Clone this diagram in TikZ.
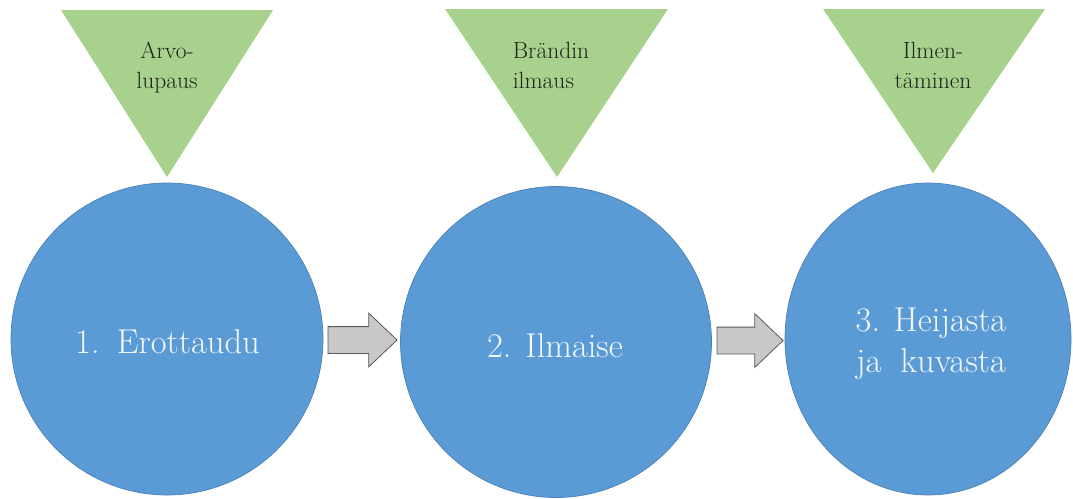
\documentclass[tikz,border=0pt]{standalone}
\usepackage{fontspec}
\usetikzlibrary{shapes.geometric,shapes.arrows}
\definecolor{stepblue}{HTML}{5B9BD5}
\definecolor{stepedge}{HTML}{4A80B8}
\definecolor{taggreen}{HTML}{A9D18E}
\definecolor{arrowgray}{HTML}{C8C8C8}
\definecolor{arrowedge}{HTML}{595959}
\definecolor{steptext}{HTML}{F2F7FC}
\definecolor{tagtext}{HTML}{1E261C}
\begin{document}
\begin{tikzpicture}[x=1pt,y=-1pt,
  stepdisc/.style={circle, fill=stepblue, draw=stepedge, line width=0.7pt,
    inner sep=0pt, minimum size=#1},
  stepoval/.style={ellipse, fill=stepblue, draw=stepedge, line width=0.7pt,
    inner sep=0pt, minimum width=#1, minimum height=312pt},
  steplabel/.style={text=steptext, align=center, inner sep=0pt,
    font=\fontsize{34.5}{41}\selectfont},
  tagshape/.style={fill=taggreen},
  taglabel/.style={text=tagtext, inner sep=0pt,
    font=\fontsize{23.5}{30}\selectfont},
  flowarrow/.style={single arrow, fill=arrowgray, draw=arrowedge,
    line width=0.8pt, inner xsep=0pt, inner ysep=13pt,
    single arrow head extend=13.5pt, single arrow tip angle=87,
    minimum height=#1},
]
\useasboundingbox (0,0) rectangle (1073,498);
\fill[white] (0,0) rectangle (1073,498);

% the three steps
\node[stepdisc=312pt] (c1) at (167,339) {};
\node[stepdisc=311pt] (c2) at (556,342) {};
\node[stepoval=286pt] (c3) at (928,339) {};

\node[steplabel] (t1) at (167.5,345) {\strut 1.\hspace{0.5em}Erottaudu\strut};
\node[steplabel] (t2) at (555,349) {\strut 2. Ilmaise\strut};
\node[steplabel] (t3) at (931,344) {\strut 3. Heijasta\\ ja\hspace{0.55em}kuvasta\strut};

% arrows between the steps
\node[flowarrow=69pt] (ar1) at (355.5,340) {};
\node[flowarrow=66pt] (ar2) at (743,340.5) {};

% triangles above the steps
\coordinate (g1a) at (61,10);  \coordinate (g1b) at (273,10);  \coordinate (g1c) at (167,177);
\coordinate (g2a) at (445,9);  \coordinate (g2b) at (668,9);   \coordinate (g2c) at (557,177);
\coordinate (g3a) at (823,9);  \coordinate (g3b) at (1045,9);  \coordinate (g3c) at (933,173);
\fill[tagshape] (g1a) -- (g1b) -- (g1c) -- cycle;
\fill[tagshape] (g2a) -- (g2b) -- (g2c) -- cycle;
\fill[tagshape] (g3a) -- (g3b) -- (g3c) -- cycle;

\node[taglabel, align=center] (l1) at (167,67) {\strut Arvo-\\lupaus\strut};
\node[taglabel, align=left]   (l2) at (551,67) {\strut Brändin\\ilmaus\strut};
\node[taglabel, align=center] (l3) at (933,67) {\strut Ilmen-\\täminen\strut};
\end{tikzpicture}
\end{document}
